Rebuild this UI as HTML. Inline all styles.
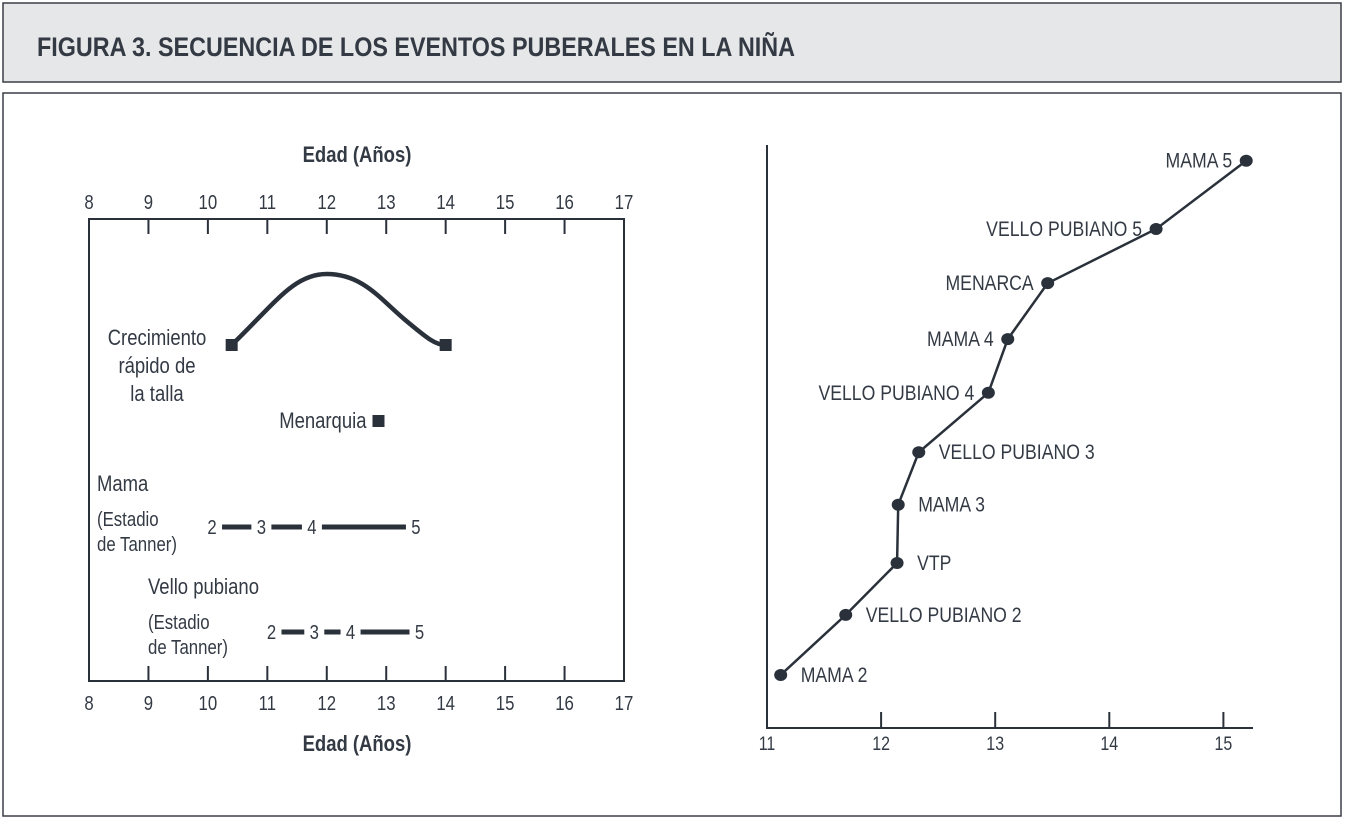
<!DOCTYPE html>
<html><head><meta charset="utf-8"><style>
body{margin:0;background:#fff;}
svg text{font-family:"Liberation Sans",sans-serif;fill:#333a44;}
</style></head><body>
<svg id="s" width="1350" height="820" viewBox="0 0 1350 820" xmlns="http://www.w3.org/2000/svg">
<rect x="3" y="3" width="1338" height="79" fill="#e6e7e8" stroke="#3a3f47" stroke-width="1.5"/>
<text id="title" x="37" y="56" font-size="27" font-weight="bold" fill="#2a2f36" textLength="758" lengthAdjust="spacingAndGlyphs">FIGURA 3.  SECUENCIA DE LOS EVENTOS PUBERALES EN LA  NIÑA</text>
<rect x="3" y="93" width="1338" height="723" fill="#fff" stroke="#3a3f47" stroke-width="1.5"/>
<rect x="89" y="219" width="535" height="462" fill="none" stroke="#2a313b" stroke-width="2"/>
<text x="357" y="162" font-size="22" font-weight="bold" text-anchor="middle">Edad (Años)</text>
<text x="357" y="751" font-size="22" font-weight="bold" text-anchor="middle">Edad (Años)</text>
<g id="left"></g>
<g id="right"></g>
</svg>
<script>
// Left chart data
const leftTicks = [8,9,10,11,12,13,14,15,16,17];
const growthAges = [10.4, 12, 14];
const menarquiaAge = 12.87;
const mamaStages = ["2","3","4","5"];
const mamaAges = [10.07, 10.9, 11.75, 13.5];
const velloStages = ["2","3","4","5"];
const velloAges = [11.07, 11.79, 12.4, 13.56];
// Right chart data
const rightTicks = [11,12,13,14,15];
const eventLabels = ["MAMA 2","VELLO PUBIANO 2","VTP","MAMA 3","VELLO PUBIANO 3","VELLO PUBIANO 4","MAMA 4","MENARCA","VELLO PUBIANO 5","MAMA 5"];
const eventAges = [11.12, 11.69, 12.14, 12.15, 12.33, 12.94, 13.11, 13.46, 14.41, 15.2];
const eventOrder = [9.1, 19.4, 28.3, 38.3, 47.3, 57.5, 66.7, 76.3, 85.6, 97.3];
const labelSide = ["r","r","r","r","r","l","l","l","l","l"];

const NS="http://www.w3.org/2000/svg";
function mk(tag,attrs,parent,txt){const e=document.createElementNS(NS,tag);for(const k in attrs)e.setAttribute(k,attrs[k]);if(txt!==undefined)e.textContent=txt;parent.appendChild(e);return e;}
const L=document.getElementById('left'), R=document.getElementById('right');
const lx = a => 89 + (a-8)*(535/9);
const C="#2a313b";

leftTicks.forEach((t,i)=>{
  let e=mk('text',{x:lx(t),y:209,'font-size':20,'text-anchor':'middle'},L,String(t));
   
  e=mk('text',{x:lx(t),y:710,'font-size':20,'text-anchor':'middle'},L,String(t));
   
  if(i>0&&i<leftTicks.length-1){
    e=mk('line',{x1:lx(t),x2:lx(t),y1:219,y2:234,stroke:C,'stroke-width':2},L);
     
    e=mk('line',{x1:lx(t),x2:lx(t),y1:666,y2:681,stroke:C,'stroke-width':2},L);
     
  }
});
{
  const x0=lx(growthAges[0]), xp=lx(growthAges[1]), x1=lx(growthAges[2]);
  const yb=345, yt=274;
  const d=`M${x0},${yb} C${x0+(xp-x0)*0.45},${yt+30} ${xp-(xp-x0)*0.35},${yt} ${xp},${yt} C${xp+(x1-xp)*0.3},${yt} ${xp+(x1-xp)*0.45},${yt+25} ${xp+(x1-xp)*0.65},${yt+45} S${x1-10},${yb} ${x1},${yb}`;
  let e=mk('path',{d,fill:'none',stroke:C,'stroke-width':4.5},L);
   
  [x0,x1].forEach(x=>{e=mk('rect',{x:x-6,y:yb-6,width:12,height:12,fill:C},L);
     });
}
[["Crecimiento",345],["rápido de",373],["la talla",401]].forEach(([t,y])=>{
  const e=mk('text',{x:157,y,'font-size':22,'text-anchor':'middle'},L,t);
   
});
{
  let e=mk('rect',{x:lx(menarquiaAge)-6,y:415,width:12,height:12,fill:C},L);
   
  e=mk('text',{x:lx(menarquiaAge)-12,y:428,'font-size':22,'text-anchor':'end'},L,"Menarquia");
   
}
function stages(ages,labels,y,name){
  ages.forEach((a,i)=>{
    let e=mk('text',{x:lx(a),y:y+7,'font-size':20,'text-anchor':'middle'},L,labels[i]);
     
    if(i<ages.length-1){
      e=mk('line',{x1:lx(a)+10,x2:lx(ages[i+1])-10,y1:y,y2:y,stroke:C,'stroke-width':5},L);
       
    }
  });
}
stages(mamaAges,mamaStages,527,'mama');
stages(velloAges,velloStages,632,'vello');
[["Mama",97,491,22],["(Estadio",97,526,20],["de Tanner)",97,551,20],["Vello pubiano",148,594,22],["(Estadio",148,629,20],["de Tanner)",148,654,20]].forEach(([t,x,y,fs])=>{
  const e=mk('text',{x,y,'font-size':fs},L,t);
   
});

const rx = a => 767 + (a-11)*114.1;
const ry = v => 728 - v*5.83;
{
  let e=mk('line',{x1:767,x2:767,y1:145,y2:728,stroke:C,'stroke-width':2},R);
   
  e=mk('line',{x1:766,x2:1253,y1:728,y2:728,stroke:C,'stroke-width':2},R);
   
}
rightTicks.forEach(t=>{
  let e=mk('line',{x1:rx(t),x2:rx(t),y1:712,y2:728,stroke:C,'stroke-width':2},R);
   
  e=mk('text',{x:rx(t),y:750,'font-size':19,'text-anchor':'middle'},R,String(t));
   
});
{
  const pts=eventAges.map((a,i)=>rx(a)+','+ry(eventOrder[i])).join(' ');
  let e=mk('polyline',{points:pts,fill:'none',stroke:C,'stroke-width':2.5},R);
   
}
eventAges.forEach((a,i)=>{
  const x=rx(a), y=ry(eventOrder[i]);
  let e=mk('ellipse',{cx:x,cy:y,rx:6.5,ry:6,fill:C},R);
   
  const left=labelSide[i]==='l';
  e=mk('text',{x:left?x-14:x+20,y:y+7,'font-size':21,'text-anchor':left?'end':'start'},R,eventLabels[i]);
   
});
// condense all text (except title) to mimic the narrow reference face
document.querySelectorAll('svg text').forEach(t=>{
  if(t.id==='title')return;
  const w=t.getComputedTextLength();
  t.setAttribute('textLength',(w*0.84).toFixed(1));
  t.setAttribute('lengthAdjust','spacingAndGlyphs');
});
</script>
</body></html>
